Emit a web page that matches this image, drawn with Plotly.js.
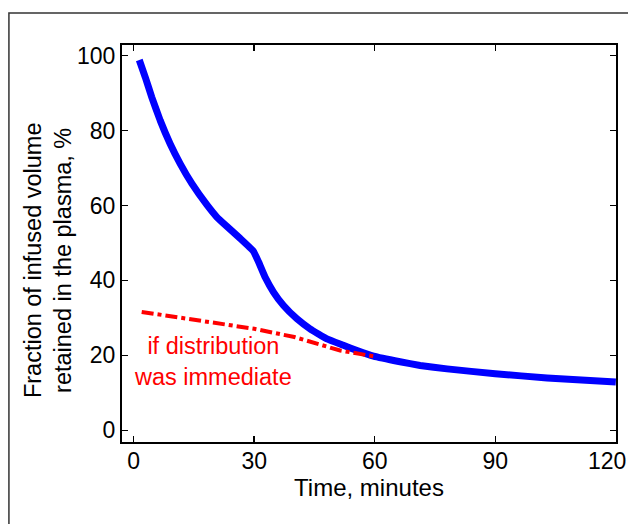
<!DOCTYPE html>
<html><head><meta charset="utf-8">
<script src="https://cdn.plot.ly/plotly-3.0.1.min.js"></script>
<style>html,body{margin:0;padding:0;background:#fff}</style>
</head><body><div id="chart" style="width:628px;height:524px"></div>
<script>
const timeBlue = [1.4, 2.9, 4.5, 6.6, 9.1, 11.6, 14.5, 18.2, 20.7, 23.2, 26.5, 29.8, 31.1, 32.7, 34.8, 37.3, 40.6, 43.9, 48.1, 52.2, 55.6, 59.7, 66.3, 71.3, 78, 90, 102.9, 120];
const fracBlue = [98.8, 94.2, 88.9, 82.7, 76.4, 71.1, 65.8, 60.2, 56.9, 54.4, 51.2, 47.8, 44.9, 40.9, 36.9, 33.3, 29.8, 27.1, 24.4, 22.7, 21.3, 19.8, 18.3, 17.3, 16.4, 15.1, 14.0, 12.9];
const timeRed = [2, 27.3, 30, 40, 51.4, 60];
const fracRed = [31.6, 27.5, 27.1, 24.9, 21.3, 19.7];
const xTicks = [0, 30, 60, 90, 120];
const xTickText = ['0', '30', '60', '90', ''];
const lastXTickText = '120';
const yTicks = [0, 20, 40, 60, 80, 100];
const yTitle = 'Fraction of infused volume<br>retained in the plasma, %';
const xTitle = 'Time, minutes';
const noteText = 'if distribution<br>was immediate';

const font = {family: 'Arial, Liberation Sans, sans-serif', color: '#000'};
const data = [
  {x: timeBlue, y: fracBlue, mode: 'lines', line: {color: '#0000ff', width: 7, shape: 'spline', smoothing: 0.3}, hoverinfo: 'none'},
  {x: timeRed, y: fracRed, mode: 'lines', line: {color: '#ff0000', width: 4, dash: 'dashdot'}, hoverinfo: 'none'}
];
const layout = {
  width: 628, height: 524,
  margin: {l: 122, r: 12.3, t: 45, b: 82.3},
  paper_bgcolor: '#fff', plot_bgcolor: '#fff',
  showlegend: false,
  font: Object.assign({size: 23}, font),
  xaxis: {
    range: [-2.9, 120.05], tickvals: xTicks, ticktext: xTickText,
    ticks: 'inside', ticklen: 6, tickwidth: 1.5, tickcolor: '#000',
    showline: true, linecolor: '#000', linewidth: 2, mirror: 'ticks',
    showgrid: false, zeroline: false, ticklabelstandoff: -3,
    tickfont: Object.assign({size: 23}, font),
    title: {text: xTitle, font: Object.assign({size: 24}, font), standoff: 6}
  },
  yaxis: {
    range: [-3.1, 102.8], tickvals: yTicks, ticktext: yTicks.map(String),
    ticks: 'inside', ticklen: 6, tickwidth: 1.5, tickcolor: '#000',
    showline: true, linecolor: '#000', linewidth: 2, mirror: 'ticks',
    showgrid: false, zeroline: false,
    tickfont: Object.assign({size: 23}, font)
  },
  annotations: [
    {x: 19.8, y: 18.3, xref: 'x', yref: 'y', showarrow: false, text: noteText, align: 'center',
     font: Object.assign({}, font, {size: 23.5, color: '#ff0000'})},
    {x: -0.1499, y: 0.458, xref: 'paper', yref: 'paper', showarrow: false, text: yTitle,
     textangle: -90, align: 'center', xanchor: 'center', yanchor: 'middle',
     font: Object.assign({size: 23.5}, font)},
    {x: xTicks[4], y: -0.047, xref: 'x', yref: 'paper', xshift: -9, showarrow: false,
     text: lastXTickText, xanchor: 'center', yanchor: 'middle',
     font: Object.assign({size: 23}, font)}
  ],
  shapes: [{
    type: 'rect', xref: 'paper', yref: 'paper',
    x0: -0.2289, x1: 1.06, y0: -0.3, y1: 1.0807,
    line: {color: '#333', width: 1.5}
  }]
};
Plotly.newPlot('chart', data, layout, {staticPlot: true, displayModeBar: false});
</script></body></html>
